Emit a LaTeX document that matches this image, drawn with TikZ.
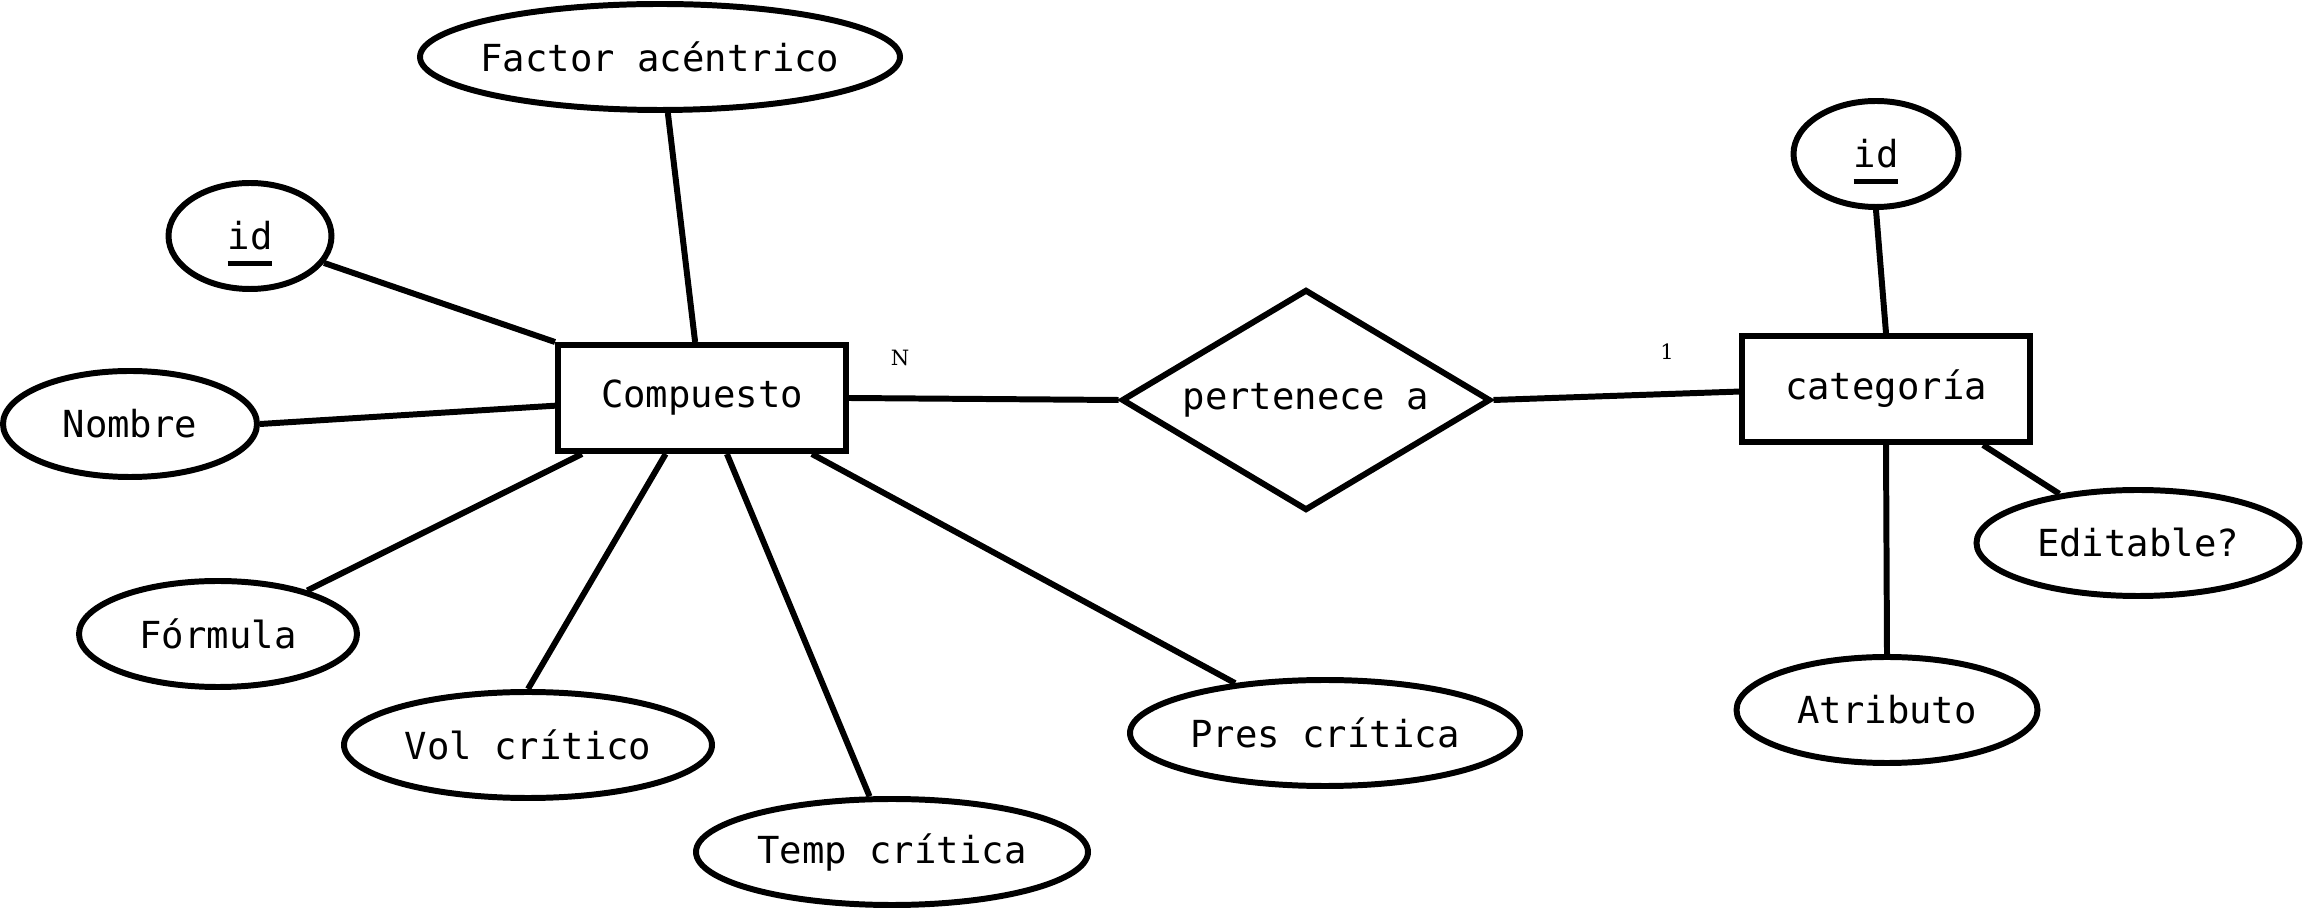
\documentclass[tikz,border=0pt]{standalone}
\usepackage{fontspec}
\setmainfont{DejaVu Sans Mono}
\newfontfamily\cardfont{DejaVu Serif}
\usetikzlibrary{positioning,shapes.geometric}
\newcommand{\pkey}[1]{\leavevmode\rlap{\smash{\vtop{\hbox{#1}\kern3pt\hrule height 1.4pt}}}\phantom{#1}}
\tikzstyle{ent}=[rectangle, draw=black, line width=1.7pt, minimum width=2.88cm,
    minimum height=1.06cm, inner sep=0pt, font=\fontsize{10.6}{12}\selectfont]
\tikzstyle{rel}=[diamond, aspect=1.67, draw=black, line width=1.7pt, minimum width=3.69cm,
    minimum height=2.21cm, inner sep=0pt, font=\fontsize{10.6}{12}\selectfont]
\tikzstyle{attr}=[ellipse, draw=black, line width=1.7pt, minimum height=1.06cm,
    inner sep=0pt, font=\fontsize{10.6}{12}\selectfont]
\tikzstyle{card}=[inner sep=0pt, font=\cardfont\fontsize{6}{7}\selectfont]
\tikzstyle{link}=[line width=1.7pt]

\begin{document}
\begin{tikzpicture}[node distance=6cm]
  \useasboundingbox (0,0) rectangle (23.03,9.09);
  \node[ent]  (comp) at (7.02,5.11) {Compuesto};
  \node[rel, right of=comp, node distance=6.04cm, yshift=-0.02cm] (pert) {pertenece a};
  \node[ent, right of=pert, node distance=5.8cm, yshift=0.11cm] (cat) {categoría};

  % atributos de Compuesto
  \node[attr, minimum width=4.80cm, inner xsep=-3pt] (fac) at (6.60,8.52) {Factor acéntrico};
  \node[attr, minimum width=1.63cm] (id1)  at (2.50,6.73) {\pkey{id}};
  \node[attr, minimum width=2.54cm] (nom)  at (1.30,4.85) {Nombre};
  \node[attr, minimum width=2.78cm] (form) at (2.18,2.75) {Fórmula};
  \node[attr, minimum width=3.68cm] (vol)  at (5.28,1.64) {Vol crítico};
  \node[attr, minimum width=3.92cm] (temp) at (8.92,0.57) {Temp crítica};
  \node[attr, minimum width=3.90cm] (pres) at (13.25,1.76) {Pres crítica};

  % atributos de categoria
  \node[attr, minimum width=1.65cm] (id2)  at (18.76,7.55) {\pkey{id}};
  \node[attr, minimum width=3.23cm] (edit) at (21.38,3.66) {Editable?};
  \node[attr, minimum width=3.01cm] (atr)  at (18.87,1.99) {Atributo};

  \node[card] (cardn) at (9.00,5.51) {N};
  \node[card] (card1) at (16.67,5.57) {1};

  \draw[link] (fac.-82) -- (comp.97);
  \draw[link] (id1.-20) -- (comp.north west);
  \draw[link] (nom.east) -- (comp.183);
  \draw[link] (form.26) -- (comp.-155);
  \draw[link] (vol.north) -- (comp.-123);
  \draw[link] (temp.112) -- (comp.-66);
  \draw[link] (pres.151) -- (comp.-27);
  \draw[link] (comp.east) -- (pert.west);
  \draw[link] (pert.east) -- (cat.181);
  \draw[link] (id2.south) -- (cat.north);
  \draw[link] (atr.north) -- (cat.south);
  \draw[link] (edit.148) -- (cat.-30);
\end{tikzpicture}
\end{document}
